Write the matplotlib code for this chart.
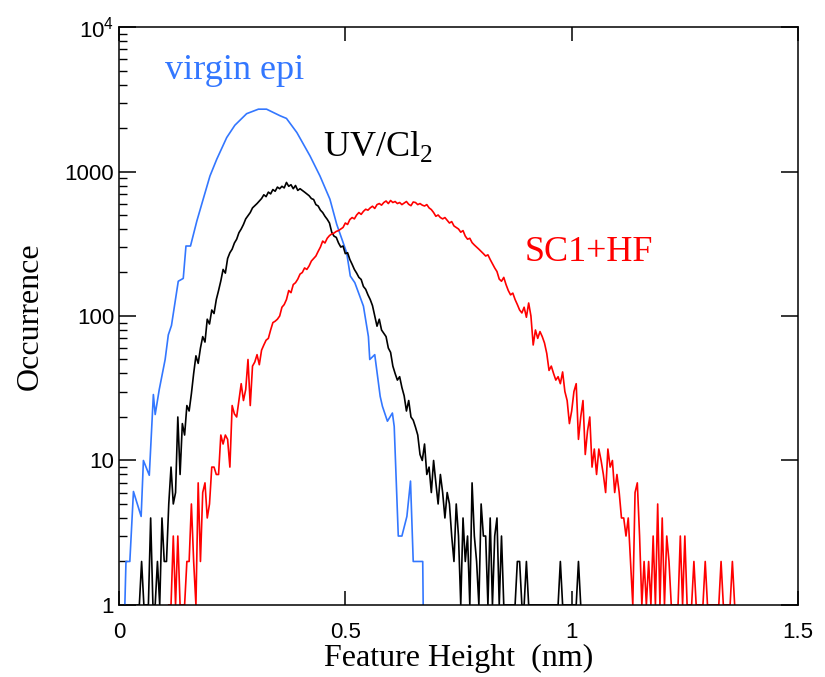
import numpy as np
import matplotlib
matplotlib.use("Agg")
import matplotlib.pyplot as plt
from matplotlib.ticker import LogLocator, NullFormatter, FixedLocator

plt.rcParams['font.family'] = ['Liberation Sans', 'DejaVu Sans']
plt.rcParams['mathtext.fontset'] = 'custom'
plt.rcParams['mathtext.rm'] = 'Liberation Serif'
plt.rcParams['mathtext.sf'] = 'Liberation Sans'

# virgin epi (coarser bins, read point by point)
virgin_x = [0.013, 0.0155, 0.024, 0.032, 0.049, 0.054, 0.067, 0.076, 0.080, 0.089,
            0.102, 0.109, 0.116, 0.131, 0.142, 0.148, 0.158, 0.172, 0.186, 0.201,
            0.216, 0.238, 0.256, 0.282, 0.308, 0.326, 0.356, 0.370, 0.393, 0.422,
            0.444, 0.466, 0.481, 0.503, 0.511, 0.521, 0.532, 0.540, 0.551, 0.554,
            0.565, 0.577, 0.582, 0.593, 0.604, 0.608, 0.617, 0.625, 0.636, 0.644,
            0.650, 0.671, 0.672]
virgin_y = [1, 2, 2, 6.1, 4.1, 10, 7.9, 28.6, 20.8, 31,
            50, 74, 86, 174, 182, 305, 305, 454, 643, 931,
            1216, 1718, 2090, 2513, 2700, 2700, 2430, 2330, 1860, 1282,
            931, 643, 431, 274, 189, 170, 137, 117, 72, 50,
            54, 27.8, 23.7, 18.7, 21.3, 17.2, 3.0, 3, 4.1, 7.2,
            2, 2, 1]

# UV/Cl2, bins of 0.005 nm starting at 0.040
uv_start, uv_step = 0.040, 0.005
uv_counts = [1, 1, 2, 1, 1, 1, 4, 1, 1, 2,
             1, 4, 2, 2, 5, 9, 5, 6, 20, 8,
             18, 15, 24, 22, 29, 40, 53, 47, 60, 72,
             66, 95, 88, 110, 104, 130, 150, 175, 210, 198,
             250, 274, 290, 320, 340, 377, 400, 430, 470, 495,
             520, 560, 580, 600, 625, 650, 690, 670, 720, 700,
             750, 730, 780, 760, 790, 770, 840, 790, 810, 760,
             800, 740, 760, 740, 720, 700, 680, 650, 640, 590,
             577, 540, 520, 490, 467, 440, 380, 357, 350, 320,
             300, 305, 270, 274, 246, 228, 210, 198, 185, 179,
             160, 153, 140, 130, 118, 100, 85, 95, 80, 76,
             72, 60, 56, 45, 40, 36, 38, 32, 28, 22,
             26, 20, 19, 17, 15, 11, 10, 13, 8, 9,
             6, 10, 7, 5, 8, 6, 4, 6, 5, 3,
             2, 5, 3, 1, 4, 2, 3, 1, 7, 3,
             2, 1, 5, 3, 3, 1, 4, 1, 3, 4,
             1, 3, 1, 1, 1, 1, 1, 1, 2, 2,
             1, 1, 2, 1, 1, 1, 1, 1, 1, 1,
             1, 1, 1, 1, 1, 1, 1, 2, 1, 1,
             1, 1, 1, 1, 1, 2, 1]

# SC1+HF, bins of 0.005 nm starting at 0.110
sc_start, sc_step = 0.110, 0.005
sc_counts = [1, 1, 3, 1, 3, 1, 1, 1, 2, 2,
             5, 2, 1, 7, 2, 6, 7, 4, 5, 9,
             9, 8, 8, 15, 13, 15, 14, 9, 24, 21,
             20, 26, 34, 26, 31, 50, 24, 45, 48, 54,
             46, 58, 63, 68, 70, 80, 90, 92, 95, 100,
             115, 120, 130, 150, 145, 165, 170, 180, 195, 200,
             215, 210, 222, 240, 250, 260, 280, 300, 330, 320,
             345, 360, 370, 375, 385, 390, 400, 410, 440, 430,
             465, 480, 470, 500, 520, 505, 530, 548, 540, 560,
             575, 555, 590, 600, 585, 610, 625, 600, 630, 610,
             620, 600, 610, 590, 605, 620, 593, 580, 615, 610,
             590, 600, 585, 577, 590, 560, 545, 520, 490, 500,
             480, 470, 480, 460, 440, 450, 420, 410, 400, 380,
             390, 357, 340, 345, 322, 310, 300, 290, 280, 270,
             260, 265, 246, 230, 215, 203, 180, 174, 185, 165,
             150, 140, 144, 130, 120, 110, 105, 115, 98, 123,
             100, 63, 80, 70, 78, 72, 65, 55, 42, 45,
             40, 36, 38, 34, 41, 30, 26, 18, 22, 30,
             34, 14, 20, 26, 11, 16, 20, 9, 12, 8,
             12, 10, 8, 6, 12, 9, 10, 6, 8, 6,
             4, 4, 3, 4, 2, 1, 6, 7, 3, 1,
             2, 1, 2, 1, 3, 1, 5, 1, 4, 1,
             3, 2, 1, 1, 1, 1, 3, 1, 3, 1,
             1, 1, 2, 1, 1, 1, 1, 2, 1, 1,
             1, 1, 1, 1, 2, 1, 1, 1, 1, 2,
             1]

uv_x = uv_start + uv_step * np.arange(len(uv_counts))
sc_x = sc_start + sc_step * np.arange(len(sc_counts))

fig = plt.figure(figsize=(8.25, 6.77), dpi=100)
ax = fig.add_axes([0.1442, 0.1064, 0.8231, 0.8537])

ax.plot(virgin_x, virgin_y, color='#3377ff', lw=1.2)
ax.plot(uv_x, uv_counts, color='black', lw=1.2)
ax.plot(sc_x, sc_counts, color='#ff0000', lw=1.2)

ax.set_yscale('log')
ax.set_xlim(0, 1.5)
ax.set_ylim(1, 1e4)

ax.xaxis.set_major_locator(FixedLocator([0, 0.5, 1, 1.5]))
ax.set_xticklabels(['0', '0.5', '1', '1.5'])
ax.yaxis.set_major_locator(FixedLocator([1, 10, 100, 1000, 10000]))
ax.set_yticklabels(['1', '10', '100', '1000', r'$\mathsf{10^4}$'])
ax.yaxis.set_minor_locator(LogLocator(base=10, subs=np.arange(2, 10)))
ax.yaxis.set_minor_formatter(NullFormatter())

ax.tick_params(axis='both', which='major', direction='in', labelsize=16,
               width=1.1, top=True, right=True)
ax.tick_params(axis='y', which='major', length=12)
ax.tick_params(axis='x', which='major', length=10, pad=12)
ax.tick_params(axis='y', which='minor', direction='in', length=6, width=1.0,
               left=True, right=False)
for s in ax.spines.values():
    s.set_linewidth(1.1)

ax.set_xlabel('Feature Height  (nm)', fontsize=23, family='Liberation Serif', labelpad=1)
ax.set_ylabel('Occurrence', fontsize=23, family='Liberation Serif', labelpad=14)

ax.text(0.102, 4360, 'virgin epi', color='#3377ff', fontsize=26,
        family='Liberation Serif', va='baseline')
ax.text(0.45, 1277, r'UV/Cl$_\mathrm{2}$', color='black', fontsize=26,
        family='Liberation Serif', va='baseline')
ax.text(0.897, 239, 'SC1+HF', color='#ff0000', fontsize=26,
        family='Liberation Serif', va='baseline')

fig.savefig('out.png', dpi=100)
